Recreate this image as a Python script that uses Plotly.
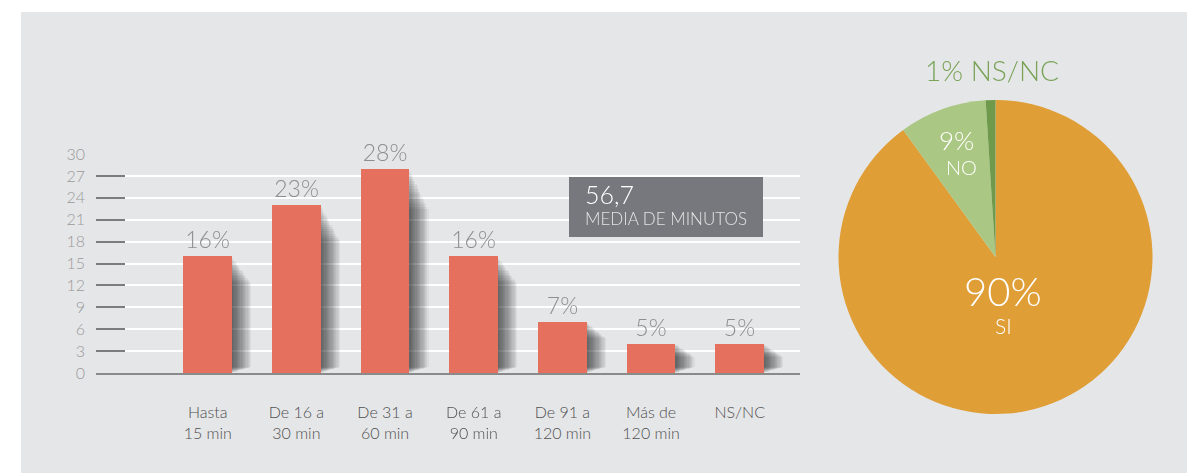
import plotly.graph_objects as go

W, H = 1198, 473

# bar chart data
categorias = ["Hasta<br>15 min", "De 16 a<br>30 min", "De 31 a<br>60 min",
              "De 61 a<br>90 min", "De 91 a<br>120 min", "Más de<br>120 min", "NS/NC"]
valores = [16, 23, 28, 16, 7, 4, 4]
etiquetas = ["16%", "23%", "28%", "16%", "7%", "5%", "5%"]
y_ticks = list(range(0, 31, 3))

media_valor = "56,7"
media_texto = "MEDIA DE MINUTOS"

# pie data
pie_labels = ["SI", "NO", "NS/NC"]
pie_values = [90, 9, 1]
pie_colors = ["#df9e36", "#abc784", "#6f9a4b"]

BG = "#e5e6e8"
BAR = "#e5705e"
FONT = "Lato"


def px_x(x):
    return x / W


def px_y(y):
    return 1 - y / H


fig = go.Figure()

# soft shadow right of each bar
n_sh = 16
for k in range(1, n_sh + 1):
    fig.add_trace(go.Bar(
        x=categorias, y=[v - 0.12 * k - 0.01 * k * v for v in valores],
        base=[0.05 * k] * len(valores),
        width=0.55 + 0.0135 * k, offset=-0.275,
        marker=dict(color="black", line_width=0), opacity=0.05,
        hoverinfo="skip", showlegend=False,
    ))

fig.add_trace(go.Bar(
    x=categorias, y=valores, width=0.55, offset=-0.275,
    marker=dict(color=BAR, line_width=0),
    text=etiquetas, textposition="outside", cliponaxis=False,
    textfont=dict(family=FONT, size=23, color="#8e8e8e", weight=300),
    showlegend=False,
))

fig.add_trace(go.Pie(
    labels=pie_labels, values=pie_values, sort=False, direction="clockwise",
    rotation=0, marker=dict(colors=pie_colors, line=dict(width=0)),
    textinfo="none", showlegend=False,
    domain=dict(x=[px_x(838), px_x(1153)], y=[px_y(414), px_y(100)]),
))

fig.update_layout(
    width=W, height=H, margin=dict(l=0, r=0, t=0, b=0, autoexpand=False),
    paper_bgcolor="white", plot_bgcolor="rgba(0,0,0,0)",
    barmode="overlay", bargap=0,
    font=dict(family=FONT),
    xaxis=dict(domain=[px_x(96), px_x(800)], range=[-1.26, 6.68],
               showgrid=False, showline=True, linecolor="#8a8a8a", linewidth=2,
               ticks="", tickfont=dict(size=16, color="#505050", weight=300),
               ticklabelstandoff=24, fixedrange=True),
    yaxis=dict(domain=[px_y(373), px_y(154)], range=[0, 30], tickvals=y_ticks,
               showgrid=True, gridcolor="white", gridwidth=1.5, zeroline=False,
               ticks="inside", ticklen=29, tickwidth=2, tickcolor="#7c7c7c",
               tickfont=dict(size=16, color="#9a9a9a", weight=300),
               ticklabelstandoff=10, fixedrange=True),
    shapes=[
        dict(type="rect", xref="paper", yref="paper", layer="below",
             x0=px_x(21), x1=px_x(1187), y0=0, y1=px_y(12),
             fillcolor=BG, line_width=0),
        dict(type="rect", xref="paper", yref="paper",
             x0=px_x(569), x1=px_x(763), y0=px_y(237), y1=px_y(177),
             fillcolor="#76787d", line_width=0),
    ],
)

annots = [
    dict(x=px_x(583), y=px_y(194), text=media_valor, xanchor="left",
         font=dict(size=25, color="white", weight=300)),
    dict(x=px_x(583), y=px_y(218), text=media_texto, xanchor="left",
         font=dict(size=17, color="#e4e4e4", weight=300)),
    dict(x=px_x(1003), y=px_y(291), text=f"{pie_values[0]}%",
         font=dict(size=40, color="white", weight=300)),
    dict(x=px_x(1003), y=px_y(325), text=pie_labels[0],
         font=dict(size=21, color="white", weight=300)),
    dict(x=px_x(956), y=px_y(140), text=f"{pie_values[1]}%",
         font=dict(size=26, color="white", weight=300)),
    dict(x=px_x(961), y=px_y(167), text=pie_labels[1],
         font=dict(size=20, color="white", weight=300)),
    dict(x=px_x(992), y=px_y(70), text=f"{pie_values[2]}% {pie_labels[2]}",
         font=dict(size=28, color="#79a357", weight=300)),
]
for a in annots:
    a.setdefault("xanchor", "center")
    a.update(xref="paper", yref="paper", showarrow=False, yanchor="middle")
    a["font"]["family"] = FONT
    fig.add_annotation(**a)

css = ("document.body.style.margin='0';"
       "document.body.style.overflow='hidden';")
fig.write_html("out.html", config={"displayModeBar": False}, post_script=css)
